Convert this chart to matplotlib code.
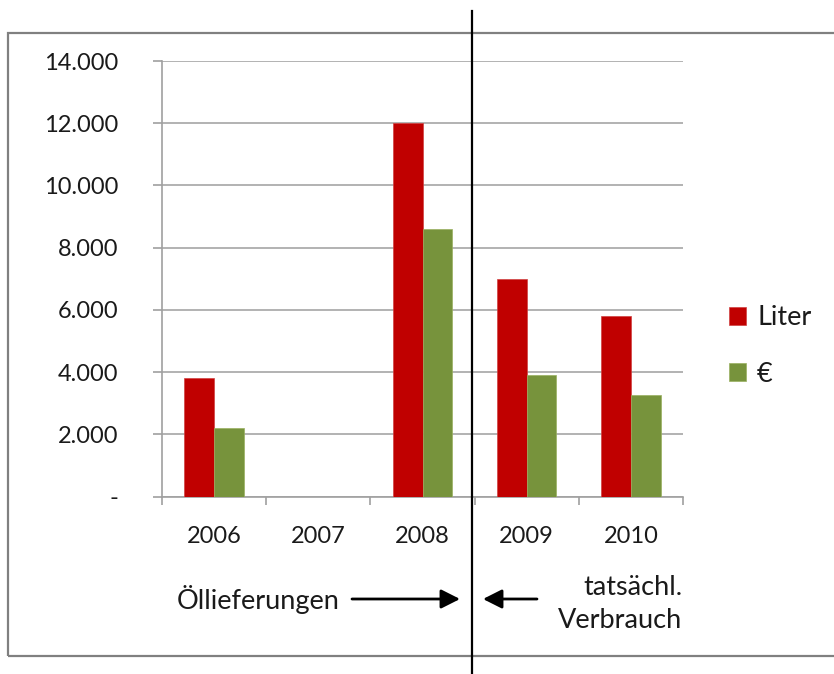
import matplotlib
matplotlib.use("Agg")
import matplotlib.pyplot as plt
from matplotlib.patches import Rectangle, FancyArrowPatch
from matplotlib.lines import Line2D
from matplotlib.ticker import FuncFormatter

years = ["2006", "2007", "2008", "2009", "2010"]
liter = [3800, 0, 12000, 7000, 5800]
euro = [2200, 0, 8600, 3900, 3250]
series_names = ["Liter", "€"]
y_ticks = [0, 2000, 4000, 6000, 8000, 10000, 12000, 14000]

plt.rcParams['font.family'] = ['Lato', 'DejaVu Sans']
FS = 17
FS_W = 19.5
TXT = '#1a1a1a'
W, H = 834, 674
fig = plt.figure(figsize=(W / 100, H / 100), dpi=100)
fig.patch.set_facecolor('white')

def fx(px):
    return px / W

def fy(py):
    return 1 - py / H

ax = fig.add_axes([fx(162), fy(496.5), fx(683) - fx(162), fy(61) - fy(496.5)])

x = list(range(len(years)))
bw = 0.285
ax.bar([i - bw / 2 for i in x], liter, width=bw, color='#C00000', edgecolor='#D04040', linewidth=0.5, label=series_names[0], zorder=3)
ax.bar([i + bw / 2 for i in x], euro, width=bw, color='#77933C', edgecolor='#9AB060', linewidth=0.5, label=series_names[1], zorder=3)

ax.set_xlim(-0.5, len(years) - 0.5)
ax.set_ylim(0, 14000)
ax.set_yticks(y_ticks)

def fmt(v, pos):
    if v == 0:
        return "-"
    return f"{int(v):,}".replace(",", ".")

ax.yaxis.set_major_formatter(FuncFormatter(fmt))
ax.set_xticks([i - 0.5 for i in range(len(years) + 1)])
ax.set_xticklabels([])
ax.set_xticks(x, minor=True)
ax.set_xticklabels(years, minor=True)
ax.tick_params(axis='x', which='minor', length=0, pad=21, labelsize=FS, colors=TXT)
ax.tick_params(axis='x', which='major', length=6, width=1.2, color='#A0A0A0', direction='out')
ax.tick_params(axis='y', length=6.5, width=1.2, color='#A0A0A0', direction='out', pad=25, labelsize=FS, labelcolor=TXT)

ax.grid(axis='y', color='#A6A6A6', linewidth=1.2, zorder=0)
ax.set_axisbelow(True)
for s in ['top', 'right']:
    ax.spines[s].set_visible(False)
for s in ['left', 'bottom']:
    ax.spines[s].set_color('#A0A0A0')
    ax.spines[s].set_linewidth(1.2)

leg = fig.legend(loc='center left', bbox_to_anchor=(fx(705), fy(346)), frameon=False,
                 fontsize=FS_W, handlelength=0.62, handleheight=0.62, handletextpad=0.4,
                 labelspacing=1.15, labelcolor=TXT)

# outer chart frame
fig.patches.append(Rectangle((fx(8), fy(656)), 1.2, fy(33) - fy(656), transform=fig.transFigure,
                             fill=False, edgecolor='#808080', linewidth=1.6, zorder=0))

# vertical separator
fig.lines.append(Line2D([fx(472), fx(472)], [fy(11), 0], transform=fig.transFigure,
                        color='black', linewidth=1.6, zorder=10))

# annotations
fig.text(fx(177), fy(600), "Öllieferungen", fontsize=FS_W, ha='left', va='center', color=TXT)
fig.text(fx(682), fy(604), "tatsächl.\nVerbrauch", fontsize=FS_W, ha='right', va='center',
         multialignment='right', linespacing=1.4, color=TXT)

astyle = '-|>,head_length=11.5,head_width=5.8'
fig.add_artist(FancyArrowPatch((fx(352), fy(599)), (fx(460), fy(599)),
               transform=fig.transFigure, arrowstyle=astyle,
               color='black', lw=2.0, shrinkA=0, shrinkB=0, mutation_scale=1))
fig.add_artist(FancyArrowPatch((fx(537), fy(599)), (fx(483), fy(599)),
               transform=fig.transFigure, arrowstyle=astyle,
               color='black', lw=2.0, shrinkA=0, shrinkB=0, mutation_scale=1))

fig.savefig("out.png", dpi=100, facecolor='white')
